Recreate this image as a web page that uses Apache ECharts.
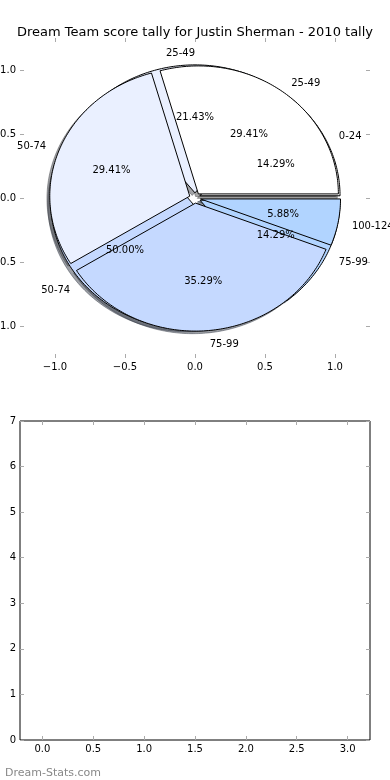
<!DOCTYPE html>
<html><head><meta charset="utf-8">
<script src="https://cdn.jsdelivr.net/npm/echarts@6/dist/echarts.min.js"></script>
<style>html,body{margin:0;padding:0;background:#fff}#c{width:390px;height:780px}</style>
</head><body><div id="c"></div>
<script>
// ---- data ----
const chartTitle = 'Dream Team score tally for Justin Sherman - 2010 tally';
const watermark = 'Dream-Stats.com';
const pieALabels = ['0-24', '25-49', '50-74', '75-99'];
const pieAValues = [2, 3, 7, 2];
const pieBLabels = ['25-49', '50-74', '75-99', '100-124'];
const pieBValues = [5, 5, 6, 1];
const sliceColors = ['#FFFFFF', '#EAF0FF', '#C5D9FF', '#B1D4FF'];
const pieTicks = [-1, -0.5, 0, 0.5, 1];
const lowerXTicks = [0, 0.5, 1, 1.5, 2, 2.5, 3];
const lowerYTicks = [0, 1, 2, 3, 4, 5, 6, 7];

// ---- style ----
const FONT = 'DejaVu Sans';
const EXPLODE_A = 0.04, EXPLODE_B = 0.04;
const SHADOW_OFF = -0.02;
const RAD = Math.PI / 180;

function buildSlices(labels, values, explode) {
  const total = values.reduce((a, b) => a + b, 0);
  let acc = 0;
  return values.map((v, i) => {
    const t1 = 360 * acc / total;
    acc += v;
    const t2 = 360 * acc / total;
    return { label: labels[i], pct: (100 * v / total).toFixed(2) + '%', t1, t2, mid: (t1 + t2) / 2, e: explode, color: sliceColors[i % sliceColors.length] };
  });
}
const slicesA = buildSlices(pieALabels, pieAValues, EXPLODE_A);
const slicesB = buildSlices(pieBLabels, pieBValues, EXPLODE_B);
const allSlices = slicesA.concat(slicesB);

function shade(hex) {
  const r = parseInt(hex.slice(1, 3), 16), g = parseInt(hex.slice(3, 5), 16), b = parseInt(hex.slice(5, 7), 16);
  return 'rgba(' + Math.round(r * 0.3) + ',' + Math.round(g * 0.3) + ',' + Math.round(b * 0.3) + ',0.5)';
}

function wedgePoints(api, s, ox, oy) {
  const cx = s.e * Math.cos(s.mid * RAD) + ox, cy = s.e * Math.sin(s.mid * RAD) + oy;
  const pts = [api.coord([cx, cy])];
  const n = Math.max(2, Math.ceil(s.t2 - s.t1));
  for (let k = 0; k <= n; k++) {
    const a = (s.t1 + (s.t2 - s.t1) * k / n) * RAD;
    pts.push(api.coord([cx + Math.cos(a), cy + Math.sin(a)]));
  }
  return pts;
}

function wedgeSeries(slices, shadow, z) {
  return {
    type: 'custom', coordinateSystem: 'cartesian2d', xAxisIndex: 0, yAxisIndex: 0,
    silent: true, clip: false, z: z, animation: false,
    data: slices.map((s, i) => [0, 0, i]),
    renderItem: function (params, api) {
      const s = slices[params.dataIndex];
      const off = shadow ? SHADOW_OFF : 0;
      const pts = wedgePoints(api, s, off, off);
      return {
        type: 'polygon', shape: { points: pts },
        style: shadow
          ? { fill: shade(s.color), stroke: shade(s.color), lineWidth: 1 }
          : { fill: s.color, stroke: '#000', lineWidth: 1, lineJoin: 'miter' }
      };
    }
  };
}

const textItems = [];
allSlices.forEach(s => {
  const c = Math.cos(s.mid * RAD), sn = Math.sin(s.mid * RAD);
  const lx = (s.e + 1.1) * c, ly = (s.e + 1.1) * sn;
  textItems.push({ text: s.label, x: lx, y: ly, align: lx > 1e-9 ? 'left' : 'right' });
  textItems.push({ text: s.pct, x: (s.e + 0.6) * c, y: (s.e + 0.6) * sn, align: 'center' });
});

const labelSeries = {
  type: 'custom', coordinateSystem: 'cartesian2d', xAxisIndex: 0, yAxisIndex: 0,
  silent: true, clip: false, z: 10, animation: false,
  data: textItems.map((t, i) => [t.x, t.y, i]),
  renderItem: function (params, api) {
    const t = textItems[params.dataIndex];
    const p = api.coord([t.x, t.y]);
    return {
      type: 'text', x: p[0], y: p[1] + 1.5,
      style: { text: t.text, fill: '#000', font: '10px "' + FONT + '"', align: t.align, verticalAlign: 'middle' }
    };
  }
};

const fmt1 = v => (v < 0 ? '\u2212' : '') + Math.abs(v).toFixed(1);
const tickStyle = { inside: true, length: 4, lineStyle: { color: '#aaa', width: 1 } };
const lbl = { color: '#000', fontSize: 10, fontFamily: FONT };

function mkAxis(grid, min, max, ticks, pos, showLabel, fmt) {
  return {
    gridIndex: grid, type: 'value', min: min, max: max, position: pos,
    axisLine: { show: false, onZero: false }, splitLine: { show: false },
    axisTick: Object.assign({ customValues: ticks }, tickStyle),
    axisLabel: Object.assign({ show: showLabel, customValues: ticks, formatter: fmt, margin: 4 }, lbl)
  };
}
const fmtInt = v => String(v);

const chart = echarts.init(document.getElementById('c'), null, { renderer: 'canvas' });
chart.setOption({
  animation: false,
  backgroundColor: '#fff',
  title: [
    { text: chartTitle, left: 'center', top: 21, textStyle: { fontFamily: FONT, fontSize: 13, fontWeight: 'normal', color: '#000' } },
    { text: watermark, left: 0, top: 763, textStyle: { fontFamily: FONT, fontSize: 11, fontWeight: 'normal', color: '#888' } }
  ],
  grid: [
    { left: 20, top: 38, width: 350, height: 320, show: false, containLabel: false, outerBoundsMode: 'none' },
    { left: 20, top: 421, width: 350, height: 319, show: true, borderColor: '#000', borderWidth: 1, backgroundColor: 'transparent', containLabel: false, outerBoundsMode: 'none' }
  ],
  xAxis: [
    mkAxis(0, -1.25, 1.25, pieTicks, 'bottom', true, fmt1),
    mkAxis(0, -1.25, 1.25, pieTicks, 'top', false, fmt1),
    mkAxis(1, -0.22, 3.22, lowerXTicks, 'bottom', true, fmt1),
    mkAxis(1, -0.22, 3.22, lowerXTicks, 'top', false, fmt1)
  ],
  yAxis: [
    mkAxis(0, -1.25, 1.25, pieTicks, 'left', true, fmt1),
    mkAxis(0, -1.25, 1.25, pieTicks, 'right', false, fmt1),
    mkAxis(1, 0, 7, lowerYTicks, 'left', true, fmtInt),
    mkAxis(1, 0, 7, lowerYTicks, 'right', false, fmtInt)
  ],
  series: [
    wedgeSeries(allSlices, true, 2),
    wedgeSeries(slicesA, false, 3),
    wedgeSeries(slicesB, false, 4),
    labelSeries
  ]
});
</script>
</body></html>
